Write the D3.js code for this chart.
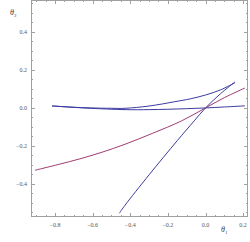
<!DOCTYPE html>
<html><head><meta charset="utf-8">
<script src="https://cdn.jsdelivr.net/npm/d3@7"></script>
<style>body{margin:0;background:#fff}</style>
</head><body>
<svg id="c" width="250" height="242"></svg>
<script>
const xDomain = [-0.928, 0.226];
const yDomain = [-0.574, 0.568];
const xTickLabels = [-0.8, -0.6, -0.4, -0.2, 0.0, 0.2];
const yTickLabels = [-0.4, -0.2, 0.0, 0.2, 0.4];
const purpleCurve = [[-0.907,-0.328],[-0.78,-0.297],[-0.668,-0.268],[-0.55,-0.233],[-0.428,-0.191],[-0.28,-0.133],[-0.127,-0.068],[0,0],[0.1,0.054],[0.21,0.105]];
const steepCurve = [[-0.458,-0.554],[-0.428,-0.512],[-0.3,-0.352],[-0.15,-0.172],[-0.06,-0.068],[0,0],[0.08,0.075],[0.157,0.137]];
const upperCurve = [[-0.816,0.0105],[-0.71,0.004],[-0.61,0.0],[-0.5,-0.002],[-0.428,-0.002],[-0.3,0.01],[-0.162,0.033],[-0.08,0.048],[0,0.068],[0.08,0.095],[0.157,0.133]];
const flatCurve = [[-0.816,0.0105],[-0.7,0.003],[-0.61,-0.002],[-0.428,-0.009],[-0.3,-0.009],[-0.2,-0.007],[-0.1,-0.004],[0,0],[0.1,0.005],[0.21,0.011]];

const svg = d3.select("#c");
const L = 31, R = 248, T = 0, B = 217;
const x = d3.scaleLinear().domain(xDomain).range([L, R]);
const y = d3.scaleLinear().domain(yDomain).range([B, T]);
const frameCol = "#a0a0a0";

const line = d3.line().x(d => x(d[0])).y(d => y(d[1])).curve(d3.curveCatmullRom);
const g = svg.append("g");
[[upperCurve,"#3b3ba0"],[flatCurve,"#3b3ba0"],[purpleCurve,"#a03c72"],[steepCurve,"#3b3ba0"]].forEach(([d,c]) => {
  g.append("path").attr("d", line(d)).attr("fill","none").attr("stroke",c).attr("stroke-width",1);
});

// frame
svg.append("rect").attr("x",L+0.5).attr("y",T+0.5).attr("width",R-L-1).attr("height",B-T-1)
  .attr("fill","none").attr("stroke",frameCol).attr("stroke-width",1);

const minorX = d3.range(-0.9, 0.2251, 0.05).map(v => +v.toFixed(2));
const minorY = d3.range(-0.55, 0.5501, 0.05).map(v => +v.toFixed(2));
const isMajor = v => Math.abs(Math.round(v*5) - v*5) < 1e-6;

const ax = d3.axisBottom(x).tickValues(minorX).tickSize(0).tickFormat("");
minorX.forEach(v => {
  const len = isMajor(v) ? 4 : 2;
  const px = Math.round(x(v)) + 0.5;
  svg.append("line").attr("x1",px).attr("x2",px).attr("y1",B).attr("y2",B-len).attr("stroke",frameCol);
  svg.append("line").attr("x1",px).attr("x2",px).attr("y1",T).attr("y2",T+len).attr("stroke",frameCol);
});
minorY.forEach(v => {
  const len = isMajor(v) ? 4 : 2;
  const py = Math.round(y(v)) + 0.5;
  svg.append("line").attr("y1",py).attr("y2",py).attr("x1",L).attr("x2",L+len).attr("stroke",frameCol);
  svg.append("line").attr("y1",py).attr("y2",py).attr("x1",R).attr("x2",R-len).attr("stroke",frameCol);
});

const fmt = v => (v < 0 ? "\u2212" : "") + Math.abs(v).toFixed(1);
svg.append("g").selectAll("text").data(xTickLabels).join("text")
  .attr("x", d => x(d)).attr("y", B + 10).attr("text-anchor","middle")
  .attr("font-family","Liberation Serif, serif").attr("font-size",6).attr("fill","#555")
  .text(fmt);
svg.append("g").selectAll("text").data(yTickLabels).join("text")
  .attr("x", L - 4).attr("y", d => y(d) + 2).attr("text-anchor","end")
  .attr("font-family","Liberation Serif, serif").attr("font-size",6).attr("fill","#555")
  .text(fmt);

const t1 = svg.append("text").attr("x",221).attr("y",232).attr("font-family","Liberation Serif, serif")
  .attr("font-size",8).attr("font-style","italic").attr("fill","#444");
t1.append("tspan").text("\u03b8");
t1.append("tspan").attr("font-size",5).attr("dy",1.5).attr("font-style","normal").text("1");
const t2 = svg.append("text").attr("x",10).attr("y",15).attr("font-family","Liberation Serif, serif")
  .attr("font-size",8).attr("font-style","italic").attr("fill","#444");
t2.append("tspan").text("\u03b8");
t2.append("tspan").attr("font-size",5).attr("dy",1.5).attr("font-style","normal").text("2");
</script>
</body></html>
